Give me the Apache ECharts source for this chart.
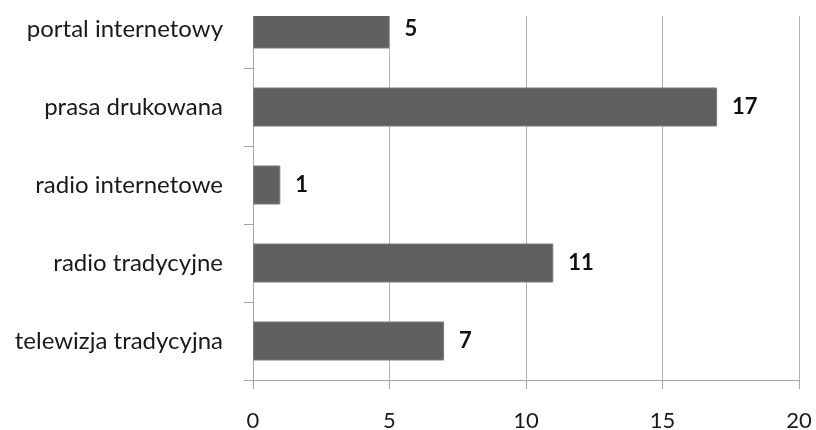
<!DOCTYPE html>
<html><head><meta charset="utf-8">
<script src="https://cdn.jsdelivr.net/npm/echarts@6/dist/echarts.min.js"></script>
<style>html,body{margin:0;padding:0;background:#fff;overflow:hidden}#c{position:absolute;left:0;top:-10px;width:816px;height:440px}</style>
</head><body><div id="c"></div>
<script>
const categories = ['telewizja tradycyjna','radio tradycyjne','radio internetowe','prasa drukowana','portal internetowy'];
const values = [7, 11, 1, 17, 5];
const xTicks = [0, 5, 10, 15, 20];

const chart = echarts.init(document.getElementById('c'));
const font = 'Lato';
chart.setOption({
  animation: false,
  backgroundColor: '#fff',
  grid: {left: 253, width: 546, top: 0, bottom: 50, containLabel: false, outerBoundsMode: 'none'},
  xAxis: {
    type: 'value', min: xTicks[0], max: xTicks[xTicks.length-1], interval: 5,
    axisLine: {show: true, lineStyle: {color: '#a6a6a6', width: 1}},
    axisTick: {show: true, length: 9, lineStyle: {color: '#a6a6a6'}},
    splitLine: {show: true, lineStyle: {color: '#b3b3b3', width: 1}},
    axisLabel: {color: '#1a1a1a', fontFamily: font, fontSize: 22, margin: 30}
  },
  yAxis: {
    type: 'category', data: categories,
    axisLine: {show: true, lineStyle: {color: '#a6a6a6', width: 1}},
    axisTick: {show: true, length: 9, lineStyle: {color: '#a6a6a6'}},
    axisLabel: {color: '#1a1a1a', fontFamily: font, fontSize: 24, margin: 30}
  },
  series: [{
    type: 'bar', data: values, barCategoryGap: '50%',
    itemStyle: {color: '#606060', borderColor: '#7a7a7a', borderWidth: 1},
    label: {show: true, position: 'right', distance: 15, color: '#111', fontFamily: font, fontWeight: 'bold', fontSize: 22}
  }],
  graphic: [{type: 'rect', left: 235, top: 0, shape: {width: 600, height: 26}, style: {fill: '#fff'}, z: 100}]
});
</script></body></html>
